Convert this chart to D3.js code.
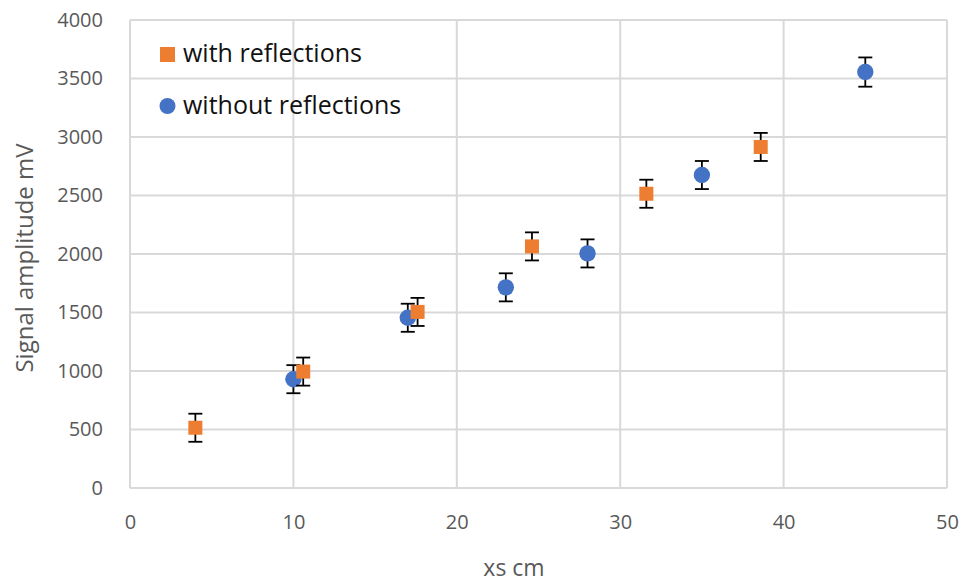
<!DOCTYPE html>
<html><head><meta charset="utf-8">
<script src="https://cdn.jsdelivr.net/npm/d3@7"></script>
<style>body{margin:0;background:#fff}svg{display:block}</style>
</head><body><svg id="c" width="971" height="583"></svg>
<script>
const withX = [4, 10.6, 17.6, 24.6, 31.6, 38.6];
const withY = [515, 995, 1505, 2065, 2515, 2915];
const withErr = [120, 120, 120, 120, 120, 120];
const withoutX = [10, 17, 23, 28, 35, 45];
const withoutY = [930, 1455, 1715, 2005, 2675, 3555];
const withoutErr = [120, 120, 120, 120, 120, 125];
const xTicks = [0, 10, 20, 30, 40, 50];
const yTicks = [0, 500, 1000, 1500, 2000, 2500, 3000, 3500, 4000];
const seriesNames = ["with reflections", "without reflections"];

const svg = d3.select("#c");
const x = d3.scaleLinear().domain([0, 50]).range([130, 947]);
const y = d3.scaleLinear().domain([0, 4000]).range([488, 20]);
const font = "'Open Sans', sans-serif";

// gridlines
svg.append("g").selectAll("line").data(yTicks).join("line")
  .attr("x1", x(0)).attr("x2", x(50)).attr("y1", d => y(d)).attr("y2", d => y(d))
  .attr("stroke", "#d9d9d9").attr("stroke-width", 2);
svg.append("g").selectAll("line").data(xTicks).join("line")
  .attr("y1", y(0)).attr("y2", y(4000)).attr("x1", d => x(d)).attr("x2", d => x(d))
  .attr("stroke", "#d9d9d9").attr("stroke-width", 2);

// axes
const xAxis = svg.append("g").attr("transform", `translate(0,${y(0)})`)
  .call(d3.axisBottom(x).tickValues(xTicks).tickFormat(d3.format("d")).tickSize(0).tickPadding(27));
xAxis.select(".domain").remove();
xAxis.selectAll("text").attr("font-family", font).attr("font-size", 20).attr("fill", "#595959");
const yAxis = svg.append("g").attr("transform", `translate(${x(0)},0)`)
  .call(d3.axisLeft(y).tickValues(yTicks).tickFormat(d3.format("d")).tickSize(0).tickPadding(27));
yAxis.select(".domain").remove();
yAxis.selectAll("text").attr("font-family", font).attr("font-size", 20).attr("fill", "#595959");

svg.append("text").attr("x", 514).attr("y", 576).attr("text-anchor", "middle")
  .attr("font-family", font).attr("font-size", 23).attr("fill", "#595959").text("xs cm");
svg.append("text").attr("transform", "translate(33,258) rotate(-90)").attr("text-anchor", "middle")
  .attr("font-family", font).attr("font-size", 24).attr("fill", "#595959").text("Signal amplitude mV");

function errBars(xs, ys, es) {
  const g = svg.append("g").attr("stroke", "#000").attr("stroke-width", 1.8);
  const d = xs.map((v, i) => ({x: v, y: ys[i], e: es[i]}));
  g.selectAll(".v").data(d).join("line")
    .attr("x1", p => x(p.x)).attr("x2", p => x(p.x)).attr("y1", p => y(p.y - p.e)).attr("y2", p => y(p.y + p.e));
  g.selectAll(".t").data(d).join("line")
    .attr("x1", p => x(p.x) - 7).attr("x2", p => x(p.x) + 7).attr("y1", p => y(p.y + p.e)).attr("y2", p => y(p.y + p.e));
  g.selectAll(".b").data(d).join("line")
    .attr("x1", p => x(p.x) - 7).attr("x2", p => x(p.x) + 7).attr("y1", p => y(p.y - p.e)).attr("y2", p => y(p.y - p.e));
}

errBars(withoutX, withoutY, withoutErr);
svg.append("g").selectAll("circle").data(withoutX.map((v, i) => [v, withoutY[i]])).join("circle")
  .attr("cx", d => x(d[0])).attr("cy", d => y(d[1])).attr("r", 8.2).attr("fill", "#4472c4");

errBars(withX, withY, withErr);
svg.append("g").selectAll("rect").data(withX.map((v, i) => [v, withY[i]])).join("rect")
  .attr("x", d => x(d[0]) - 7).attr("y", d => y(d[1]) - 7).attr("width", 14).attr("height", 14).attr("fill", "#ed7d31");

// legend
const lg = svg.append("g");
lg.append("rect").attr("x", 160).attr("y", 47).attr("width", 15).attr("height", 15).attr("fill", "#ed7d31");
lg.append("circle").attr("cx", 167.5).attr("cy", 106).attr("r", 8).attr("fill", "#4472c4");
lg.selectAll("text").data(seriesNames).join("text")
  .attr("x", 183).attr("y", (d, i) => 62 + i * 52)
  .attr("font-family", font).attr("font-size", 25).attr("fill", "#111").text(d => d);
</script></body></html>
